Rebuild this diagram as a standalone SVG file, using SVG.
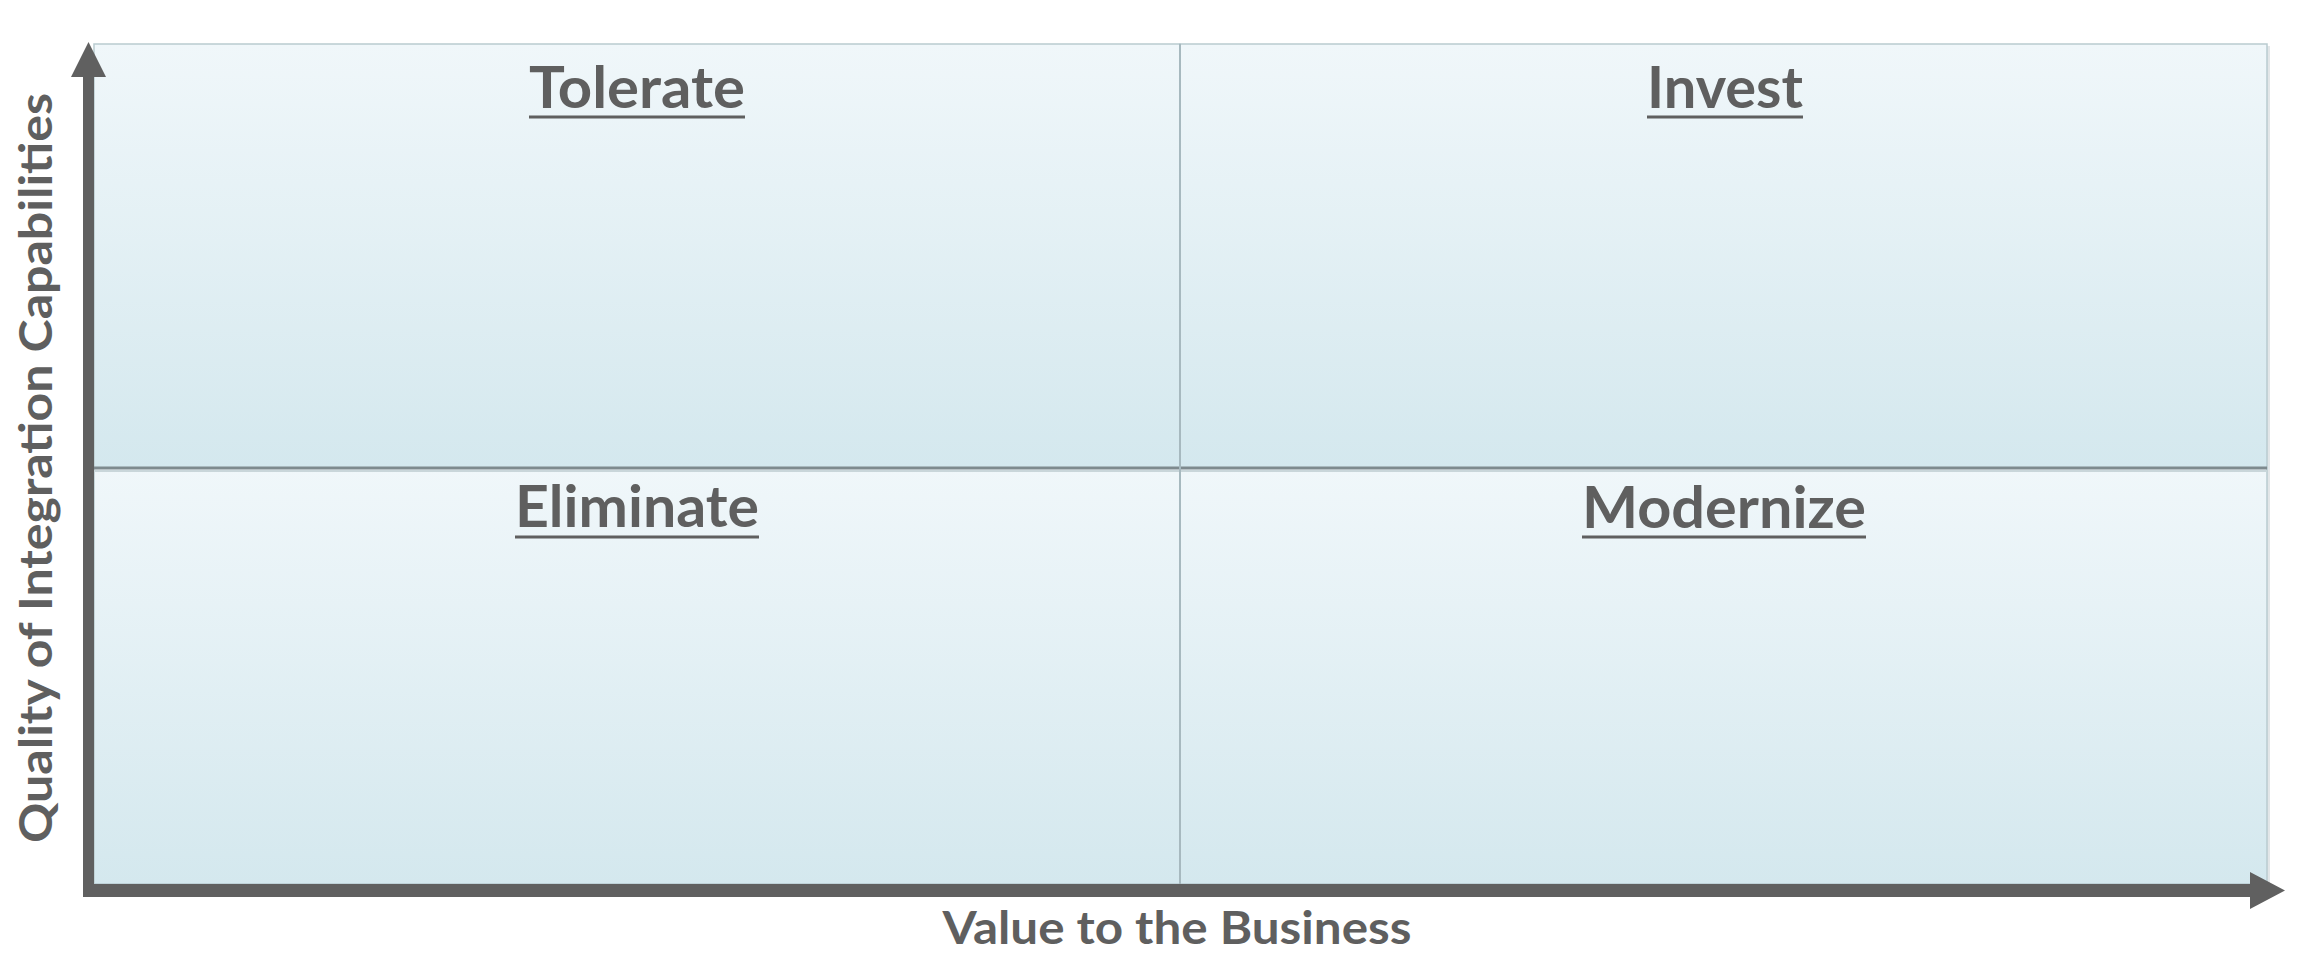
<svg xmlns="http://www.w3.org/2000/svg" width="2302" height="955" viewBox="0 0 2302 955">
<style>
.q{fill:url(#qg);stroke:#b9cbd0;stroke-width:1.5}
.lbl{font-family:Lato,"Open Sans","Liberation Sans",sans-serif;font-weight:bold;fill:#5f5f5f;text-anchor:middle}
.ql{font-size:57px}
.ax{font-size:46px}
.ul{stroke:#5f5f5f;stroke-width:3}
.axis{fill:#606060}
</style>
<defs>
<linearGradient id="qg" x1="0" y1="0" x2="0" y2="1">
<stop offset="0" stop-color="#f0f7fa"/>
<stop offset="1" stop-color="#d4e8ee"/>
</linearGradient>
</defs>
<rect x="97" y="46" width="2173" height="840" fill="#e2e6e8"/>
<g id="tolerate">
<rect class="q" x="94" y="44" width="1086" height="424"/>
<text class="lbl ql" x="637" y="108" textLength="216" lengthAdjust="spacingAndGlyphs">Tolerate</text>
<line class="ul" x1="529" y1="117" x2="745" y2="117"/>
</g>
<g id="invest">
<rect class="q" x="1180" y="44" width="1087" height="424"/>
<text class="lbl ql" x="1725" y="108" textLength="156" lengthAdjust="spacingAndGlyphs">Invest</text>
<line class="ul" x1="1647" y1="117" x2="1803" y2="117"/>
</g>
<g id="eliminate">
<rect class="q" x="94" y="468" width="1086" height="416"/>
<text class="lbl ql" x="637" y="527" textLength="244" lengthAdjust="spacingAndGlyphs">Eliminate</text>
<line class="ul" x1="515" y1="537" x2="759" y2="537"/>
</g>
<g id="modernize">
<rect class="q" x="1180" y="468" width="1087" height="416"/>
<text class="lbl ql" x="1724" y="528" textLength="284" lengthAdjust="spacingAndGlyphs">Modernize</text>
<line class="ul" x1="1582" y1="537" x2="1866" y2="537"/>
</g>
<line x1="94" y1="468" x2="2267" y2="468" stroke="#7e8a8e" stroke-width="3"/>
<line x1="94" y1="471" x2="2267" y2="471" stroke="#c9d6da" stroke-width="2"/>
<line x1="1180" y1="44" x2="1180" y2="884" stroke="#a7b9bf" stroke-width="2"/>
<g id="connectors">
<path class="axis" d="M83 77 L71 77 L88.5 42 L106 77 L94 77 L94 884 L2250 884 L2250 872 L2285 890.5 L2250 909 L2250 897 L83 897 Z"/>
</g>
<g id="x-axis-label">
<text class="lbl ax" x="1177" y="944" textLength="469" lengthAdjust="spacingAndGlyphs">Value to the Business</text>
</g>
<g id="y-axis-label">
<text class="lbl ax" transform="translate(52,468) rotate(-90)" x="0" y="0" textLength="750" lengthAdjust="spacingAndGlyphs">Quality of Integration Capabilities</text>
</g>
</svg>
